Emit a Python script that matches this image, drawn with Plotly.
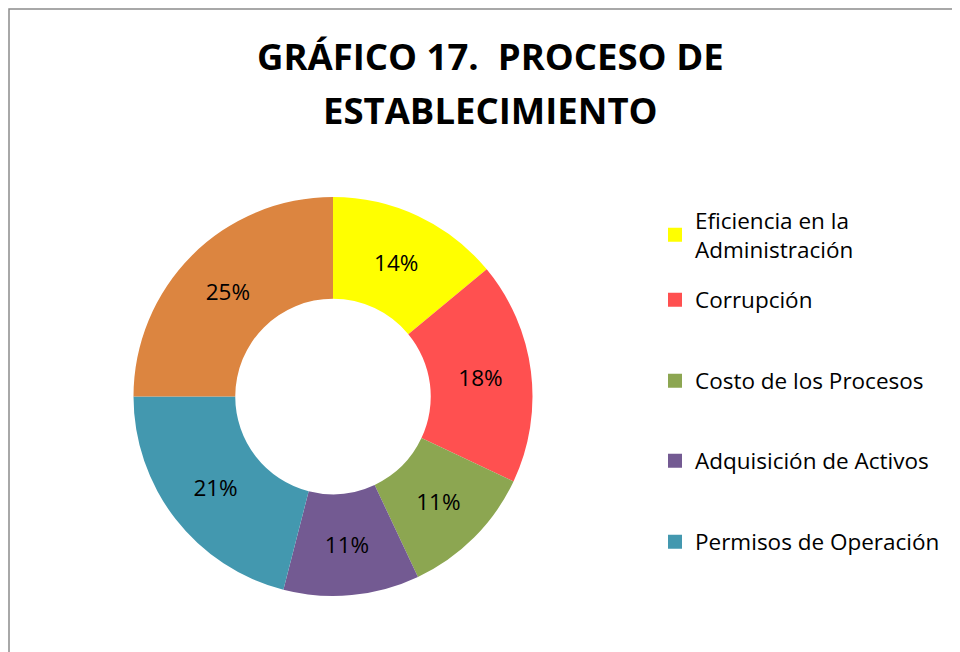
import plotly.graph_objects as go

# Datos del gráfico
categorias = ["Eficiencia en la Administración", "Corrupción", "Costo de los Procesos",
              "Adquisición de Activos", "Permisos de Operación", "Otros"]
porcentajes = [14, 18, 11, 11, 21, 25]
colores = ["#FFFF00", "#FF5050", "#8CA651", "#735A92", "#4398AF", "#DC8540"]
# entradas que aparecen en la leyenda (la sexta no se muestra en el original)
leyenda = ["Eficiencia en la<br>Administración", "Corrupción", "Costo de los Procesos",
           "Adquisición de Activos", "Permisos de Operación"]
titulo = ["GRÁFICO 17.  PROCESO DE", "ESTABLECIMIENTO"]

W, H = 960, 652
OFF = 8  # margen del body de la página
fuente = "Open Sans"


def px(x):
    return (x - OFF) / W


def py(y):
    return 1 - (y - OFF) / H


fig = go.Figure()

fig.add_trace(go.Pie(
    labels=categorias,
    values=porcentajes,
    marker=dict(colors=colores, line=dict(width=0)),
    hole=0.49,
    sort=False,
    direction="clockwise",
    rotation=0,
    texttemplate="%{percent:.0%}",
    textposition="inside",
    insidetextorientation="horizontal",
    textfont=dict(family=fuente, size=22.5, color="black"),
    showlegend=False,
    domain=dict(x=[px(133), px(533)], y=[py(596), py(197)]),
))

# Leyenda: una leyenda por entrada para fijar su posición vertical
pos_leyenda = [235, 300, 381, 461, 542]
leyendas = {}
for i, nombre in enumerate(leyenda):
    ref = "legend" if i == 0 else f"legend{i + 1}"
    fig.add_trace(go.Scatter(
        x=[None], y=[None], mode="markers", name=nombre,
        marker=dict(symbol="square", size=14, color=colores[i]),
        legend=ref, showlegend=True,
    ))
    leyendas[ref] = dict(
        x=px(655), xanchor="left",
        y=py(pos_leyenda[i]), yanchor="middle",
        font=dict(family=fuente, size=22.5, color="black"),
        itemclick=False,
        bgcolor="rgba(0,0,0,0)",
    )

# Borde del área del gráfico (recortado a la derecha y abajo)
fig.add_shape(type="rect", xref="paper", yref="paper",
              x0=px(9), x1=1.02, y0=-0.02, y1=py(9),
              line=dict(color="#8C8C8C", width=1.5), layer="below")

for linea, yc in zip(titulo, [56, 110]):
    fig.add_annotation(
        text=linea, xref="paper", yref="paper",
        x=px(490), xanchor="center", y=py(yc), yanchor="middle",
        showarrow=False,
        font=dict(family=fuente, size=36.5, color="black", weight="bold"),
    )

fig.update_layout(
    width=W, height=H,
    margin=dict(l=0, r=0, t=0, b=0),
    paper_bgcolor="white",
    plot_bgcolor="white",
    xaxis=dict(visible=False),
    yaxis=dict(visible=False),
    **leyendas,
)

fig.write_html("out.html")
